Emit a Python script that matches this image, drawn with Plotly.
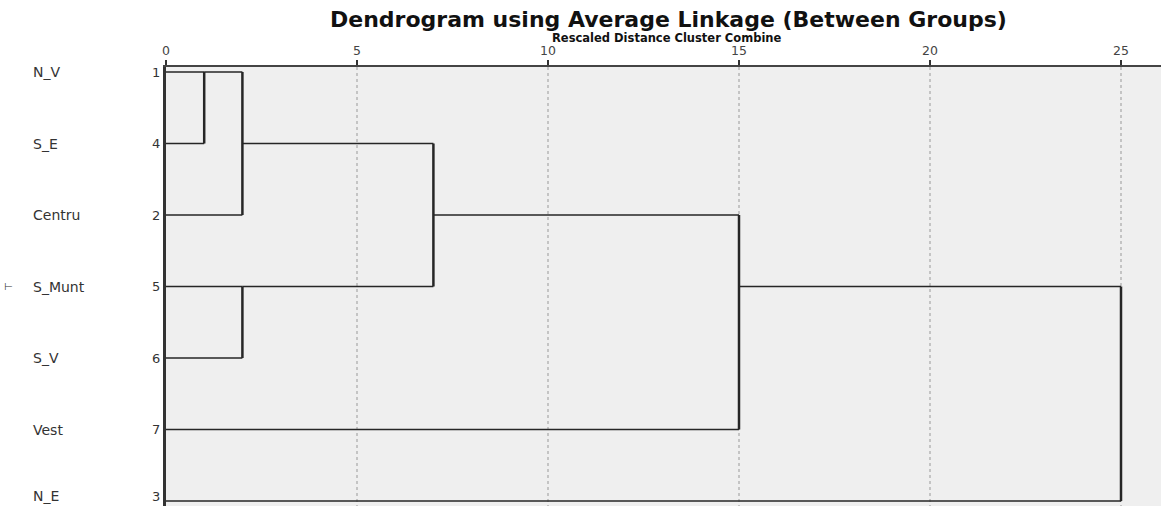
import math
import plotly.graph_objects as go

# ---- data ----
leaf_names = ["N_V", "S_E", "Centru", "S_Munt", "S_V", "Vest", "N_E"]
leaf_ids = [1, 4, 2, 5, 6, 7, 3]
# merges: node indices (leaves 0..6, merge k creates node 7+k)
merge_left = [0, 7, 3, 8, 10, 11]
merge_right = [1, 2, 4, 9, 5, 6]
merge_dist = [1, 2, 2, 7, 15, 25]
x_ticks = [0, 5, 10, 15, 20, 25]

# ---- geometry from the merge table ----
node_x = [0] * len(leaf_names)
node_y = list(range(len(leaf_names)))
hx, hy, vx, vy = [], [], [], []
for a, b, d in zip(merge_left, merge_right, merge_dist):
    for c in (a, b):
        hx += [node_x[c], d, None]
        hy += [node_y[c], node_y[c], None]
    vx += [d, d, None]
    vy += [node_y[a], node_y[b], None]
    node_x.append(d)
    node_y.append(math.floor((node_y[a] + node_y[b]) / 2))

LINE = "#262626"
fig = go.Figure()
fig.add_trace(go.Scatter(x=hx, y=hy, mode="lines", line=dict(color=LINE, width=1.7),
                         hoverinfo="skip", showlegend=False))
fig.add_trace(go.Scatter(x=vx, y=vy, mode="lines", line=dict(color=LINE, width=2.5),
                         hoverinfo="skip", showlegend=False))

W, H = 1161, 506
L, T = 166, 67
pw, ph = W - L, H - T

def px_x(p):
    return (p - L) / pw

def px_y(p):
    return 1 + (T - p) / ph

ann = []
last = len(leaf_names) - 1
for i, (name, lid) in enumerate(zip(leaf_names, leaf_ids)):
    shift = 5 if i == last else 0
    ann.append(dict(x=px_x(31), xref="paper", y=i, yref="y", text=name, showarrow=False,
                    xanchor="left", yanchor="middle", yshift=shift,
                    font=dict(family="DejaVu Sans", size=14, color="#333333")))
    ann.append(dict(x=px_x(162), xref="paper", y=i, yref="y", text=str(lid), showarrow=False,
                    xanchor="right", yanchor="middle", yshift=shift,
                    font=dict(family="DejaVu Sans", size=13, color="#333333")))
ann.append(dict(x=px_x(2), xref="paper", y=3, yref="y", text="\u22a2", showarrow=False,
                xanchor="left", yanchor="middle",
                font=dict(family="DejaVu Sans", size=10, color="#333333")))
ann.append(dict(x=px_x(668), xref="paper", y=px_y(19), yref="paper",
                text="<b>Dendrogram using Average Linkage (Between Groups)</b>",
                showarrow=False, xanchor="center", yanchor="middle",
                font=dict(family="DejaVu Sans", size=22, color="#111111")))
ann.append(dict(x=px_x(667), xref="paper", y=px_y(37.5), yref="paper",
                text="<b>Rescaled Distance Cluster Combine</b>",
                showarrow=False, xanchor="center", yanchor="middle",
                font=dict(family="DejaVu Sans", size=11.5, color="#111111")))

x_lo, x_hi = 0, (W - L) / ((1121 - 166) / 25)
r0, r6 = 72, 501
upr = (r6 - r0) / 6
y_top = -(r0 - T) / upr
y_bot = 6 + (H - r6) / upr

fig.update_layout(
    width=W, height=H,
    margin=dict(l=L, r=0, t=T, b=0, pad=0),
    paper_bgcolor="white", plot_bgcolor="#efefef",
    annotations=ann,
    xaxis=dict(side="top", range=[x_lo, x_hi], tickvals=x_ticks,
               ticktext=[str(v) for v in x_ticks],
               showline=True, linecolor="#444444", linewidth=1.5,
               ticks="outside", ticklen=5, tickwidth=2, tickcolor="#333333",
               tickfont=dict(family="DejaVu Sans", size=12.5, color="#444444"),
               ticklabelstandoff=0,
               showgrid=True, gridcolor="#c4c4c4", gridwidth=1.5, griddash="dot",
               zeroline=False, fixedrange=True),
    yaxis=dict(range=[y_bot, y_top], showticklabels=False, ticks="",
               showline=True, linecolor="#333333", linewidth=2.8,
               showgrid=False, zeroline=False, fixedrange=True),
)

fig.write_html("out.html", config={"displayModeBar": False},
               post_script="document.body.style.margin='0';document.body.style.overflow='hidden';")
